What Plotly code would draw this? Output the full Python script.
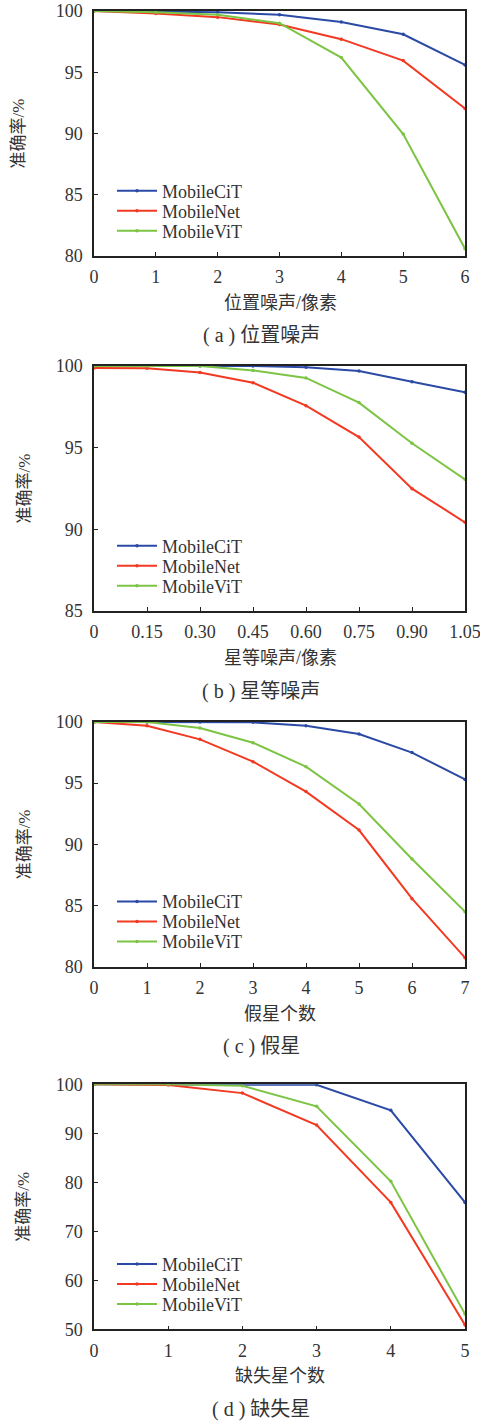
import plotly.graph_objects as go

W, H = 480, 1421

series_names = ["MobileCiT", "MobileNet", "MobileViT"]
colors = ["#2a4aa6", "#f23a22", "#7cc443"]

# (a) position noise
a_x = [0, 1, 2, 3, 4, 5, 6]
a_cit = [100.0, 99.95, 99.9, 99.7, 99.1, 98.1, 95.6]
a_net = [100.0, 99.8, 99.5, 98.9, 97.7, 95.95, 92.05]
a_vit = [100.0, 99.9, 99.7, 99.0, 96.2, 89.95, 80.6]

# (b) magnitude noise
b_x = [0, 0.15, 0.30, 0.45, 0.60, 0.75, 0.90, 1.05]
b_xlabels = ["0", "0.15", "0.30", "0.45", "0.60", "0.75", "0.90", "1.05"]
b_cit = [100.0, 100.0, 100.0, 100.0, 99.92, 99.69, 99.04, 98.39]
b_net = [99.88, 99.86, 99.6, 98.98, 97.57, 95.65, 92.49, 90.43]
b_vit = [100.0, 100.0, 100.0, 99.73, 99.27, 97.76, 95.27, 93.06]

# (c) false stars
c_x = [0, 1, 2, 3, 4, 5, 6, 7]
c_cit = [100.0, 100.0, 100.0, 99.97, 99.7, 99.02, 97.5, 95.31]
c_net = [100.0, 99.7, 98.58, 96.76, 94.31, 91.17, 85.56, 80.74]
c_vit = [100.0, 100.0, 99.51, 98.31, 96.35, 93.3, 88.8, 84.5]

# (d) missing stars
d_x = [0, 1, 2, 3, 4, 5]
d_cit = [100.0, 100.0, 100.0, 99.9, 94.7, 75.9]
d_net = [100.0, 99.86, 98.2, 91.7, 75.9, 50.9]
d_vit = [100.0, 100.0, 99.7, 95.5, 80.2, 53.1]

panels = [
    dict(x=a_x, ys=[a_cit, a_net, a_vit], yr=[80, 100], ydt=5, xr=[0, 6], xt=a_x, xl=[str(v) for v in a_x],
         top=11, bot=256, xtitle="位置噪声/像素", cap="( a ) 位置噪声"),
    dict(x=b_x, ys=[b_cit, b_net, b_vit], yr=[85, 100], ydt=5, xr=[0, 1.05], xt=b_x, xl=b_xlabels,
         top=366, bot=611, xtitle="星等噪声/像素", cap="( b ) 星等噪声"),
    dict(x=c_x, ys=[c_cit, c_net, c_vit], yr=[80, 100], ydt=5, xr=[0, 7], xt=c_x, xl=[str(v) for v in c_x],
         top=722, bot=966.7, xtitle="假星个数", cap="( c ) 假星"),
    dict(x=d_x, ys=[d_cit, d_net, d_vit], yr=[50, 100], ydt=10, xr=[0, 5], xt=d_x, xl=[str(v) for v in d_x],
         top=1084.3, bot=1329.3, xtitle="缺失星个数", cap="( d ) 缺失星"),
]

LEFT, RIGHT = 94, 465

def px_x(p):
    return p / W

def px_y(p):
    return 1 - p / H

SERIF = "Liberation Serif"
CJK = "Liberation Serif, Noto Sans CJK SC"
TXT = "#333333"

fig = go.Figure()
layout = dict(
    width=W, height=H, margin=dict(l=0, r=0, t=0, b=0, autoexpand=False),
    paper_bgcolor="white", plot_bgcolor="white", showlegend=True,
)
annotations = []
leg_n = 0

for i, p in enumerate(panels):
    k = "" if i == 0 else str(i + 1)
    xa, ya = "x" + k, "y" + k
    for j, (name, ys) in enumerate(zip(series_names, p["ys"])):
        leg_n += 1
        leg = "legend" if leg_n == 1 else "legend" + str(leg_n)
        fig.add_trace(go.Scatter(
            x=p["x"], y=ys, name=name, mode="lines+markers",
            line=dict(color=colors[j], width=2),
            marker=dict(color=colors[j], size=3.5),
            xaxis=xa, yaxis=ya, legend=leg,
        ))
        layout[leg] = dict(x=px_x(112), xanchor="left",
                           y=px_y(p["bot"] - 65 + 20 * j), yanchor="middle",
                           bgcolor="rgba(0,0,0,0)", borderwidth=0,
                           font=dict(family=SERIF, size=18, color=TXT),
                           itemwidth=40)
    common = dict(showline=True, mirror=True, linecolor="#222222", linewidth=1.5,
                  ticks="inside", ticklen=4, tickwidth=1.2, tickcolor="#222222",
                  showgrid=False, zeroline=False, automargin=False,
                  ticklabeloverflow="allow",
                  tickfont=dict(family=SERIF, size=18, color=TXT))
    layout["xaxis" + k] = dict(common, domain=[px_x(LEFT), px_x(RIGHT)], range=p["xr"],
                               tickmode="array", tickvals=p["xt"], ticktext=p["xl"],
                               anchor=ya, ticklabelstandoff=4)
    yt = list(range(p["yr"][0], p["yr"][1] + 1, p["ydt"]))
    layout["yaxis" + k] = dict(common, domain=[px_y(p["bot"]), px_y(p["top"])], range=p["yr"],
                               tickmode="array", tickvals=yt, anchor=xa, ticklabelstandoff=6)
    annotations.append(dict(text=p["xtitle"], x=px_x(280), y=px_y(p["bot"] + 47), xref="paper", yref="paper",
                            showarrow=False, xanchor="center", yanchor="middle",
                            font=dict(family=CJK, size=18, color=TXT)))
    annotations.append(dict(text=p["cap"], x=px_x(261), y=px_y(p["bot"] + 80), xref="paper", yref="paper",
                            showarrow=False, xanchor="center", yanchor="middle",
                            font=dict(family=CJK, size=20, color=TXT)))
    ytx = 18 if i == 0 else 24
    annotations.append(dict(text="准确率/%", x=px_x(ytx), y=px_y((p["top"] + p["bot"]) / 2), xref="paper", yref="paper",
                            showarrow=False, xanchor="center", yanchor="middle", textangle=-90,
                            font=dict(family=CJK, size=17, color=TXT)))

layout["annotations"] = annotations
fig.update_layout(**layout)
fig.write_html("out.html", config={"displayModeBar": False},
               post_script="document.body.style.margin='0';document.body.style.overflow='hidden';")
